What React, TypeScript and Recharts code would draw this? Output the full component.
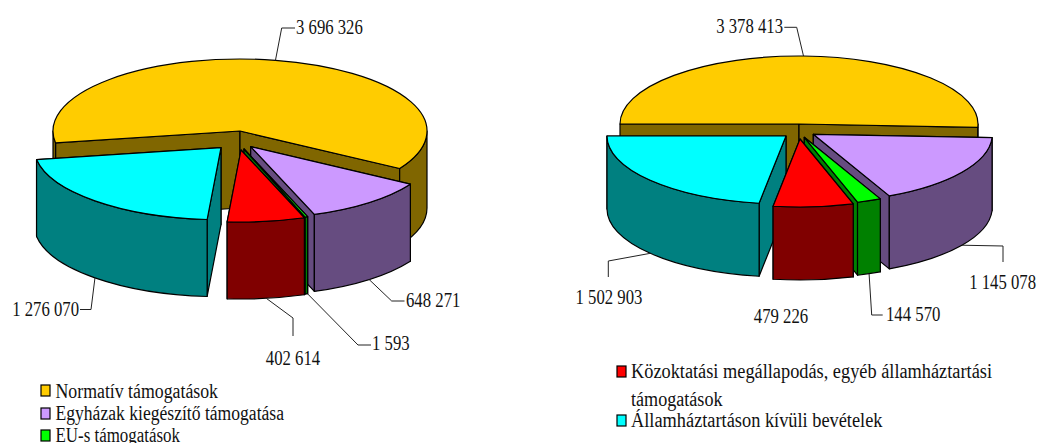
import { Pie, PieChart } from "recharts";

const CATEGORIES = [
  "Normatív támogatások",
  "Egyházak kiegészítő támogatása",
  "EU-s támogatások",
  "Közoktatási megállapodás, egyéb államháztartási támogatások",
  "Államháztartáson kívüli bevételek",
];
const VALUES_LEFT = [3696326, 648271, 1593, 402614, 1276070];
const VALUES_RIGHT = [3378413, 1145078, 144570, 479226, 1502903];
const COLORS = ["#ffcc00", "#cc99ff", "#00ff00", "#ff0000", "#00ffff"];
const WALLS = ["#806600", "#664c80", "#008000", "#800000", "#008080"];

// slices are painted in two passes so the red one sits on top of the cyan one
const BACK_SLICES = [0, 1, 4];
const FRONT_SLICES = [2, 3];

const FONT = "'Liberation Serif', serif";
const INK = "#111";
const MIN_SPAN = 0.8; // keeps the tiny EU slice visible

interface LabelPlace {
  via: number[][];
  x: number;
  y: number;
  anchor: string;
}

interface Layout {
  cx: number;
  cy: number;
  rx: number;
  ry: number;
  depth: number;
  startAngle: number;
  explode: number[][];
  labels: LabelPlace[];
}

const LEFT: Layout = {
  cx: 240,
  cy: 131,
  rx: 187,
  ry: 72,
  depth: 77,
  startAngle: 189.5,
  explode: [[0, 0], [10.7, 15.7], [4, 18], [1, 19], [-19, 16.7]],
  labels: [
    { via: [[281.7, 28], [295, 28]], x: 296, y: 34, anchor: "start" },
    { via: [[391.7, 301], [404.5, 301]], x: 406, y: 306.5, anchor: "start" },
    { via: [[358, 345], [371, 345]], x: 372, y: 350, anchor: "start" },
    { via: [[293, 318], [293, 336]], x: 293, y: 365, anchor: "middle" },
    { via: [[91, 309.5], [80, 309.5]], x: 79, y: 315.5, anchor: "end" },
  ],
};

const RIGHT: Layout = {
  cx: 799,
  cy: 124,
  rx: 179,
  ry: 68,
  depth: 73,
  startAngle: 180,
  explode: [[0, 0], [14.3, 10.3], [5.3, 13.3], [1, 15], [-13, 12]],
  labels: [
    { via: [[796.7, 27.3], [784.3, 27.3]], x: 783, y: 32.5, anchor: "end" },
    { via: [[1003, 246], [1003, 262]], x: 1036, y: 289, anchor: "end" },
    { via: [[871.7, 315], [882.7, 315]], x: 886, y: 320.5, anchor: "start" },
    { via: [], x: 781, y: 322.5, anchor: "middle" },
    { via: [[608.3, 261], [608.3, 277]], x: 609, y: 304, anchor: "middle" },
  ],
};

function formatValue(n: number) {
  return String(n).replace(/\B(?=(\d{3})+$)/g, " ");
}

function valueWidth(text: string) {
  const digits = text.replace(/ /g, "").length;
  return digits * 8.4 + (text.length - digits) * 4;
}

function makeShape(layout: Layout, slices: number[]) {
  return function Slice3D(props: any) {
    const i = CATEGORIES.indexOf(props.name);
    if (!slices.includes(i)) return <g />;
    const { rx, ry, depth } = layout;
    const [dx, dy] = layout.explode[i];
    const ax = props.cx + dx;
    const ay = props.cy + dy;
    const start = props.startAngle;
    const end = Math.min(props.endAngle, start - MIN_SPAN);
    const pt = (deg: number, drop = 0) => {
      const r = (deg * Math.PI) / 180;
      return `${ax + rx * Math.cos(r)} ${ay - ry * Math.sin(r) + drop}`;
    };
    const face = (deg: number) =>
      `M${ax} ${ay} L${pt(deg)} L${pt(deg, depth)} L${ax} ${ay + depth} Z`;

    const fronts: number[][] = [];
    [-360, 0, 360].forEach((k) => {
      const lo = Math.max(end, k - 180);
      const hi = Math.min(start, k);
      if (lo < hi) fronts.push([hi, lo]);
    });
    const large = start - end > 180 ? 1 : 0;
    const line = { stroke: "#000", strokeWidth: 1.2, strokeLinejoin: "round" as const };

    // the side that faces the viewer goes last, its back edge must not show through
    const sinOf = (deg: number) => Math.sin((deg * Math.PI) / 180);
    const sides = sinOf(start) < sinOf(end) ? [end, start] : [start, end];

    return (
      <g>
        {sides.map((deg) => (
          <path key={deg} d={face(deg)} fill={WALLS[i]} {...line} />
        ))}
        {fronts.map(([hi, lo]) => (
          <path
            key={hi}
            d={`M${pt(hi)} A${rx} ${ry} 0 0 1 ${pt(lo)} L${pt(lo, depth)} A${rx} ${ry} 0 0 0 ${pt(hi, depth)} Z`}
            fill={WALLS[i]}
            {...line}
          />
        ))}
        <path
          d={`M${ax} ${ay} L${pt(start)} A${rx} ${ry} 0 ${large} 1 ${pt(end)} Z`}
          fill={COLORS[i]}
          {...line}
        />
      </g>
    );
  };
}

function makeLabel(layout: Layout) {
  return function SliceLabel(props: any) {
    const i = CATEGORIES.indexOf(props.name);
    const { rx, ry, depth } = layout;
    const [dx, dy] = layout.explode[i];
    const place = layout.labels[i];
    const r = (props.midAngle * Math.PI) / 180;
    const sin = Math.sin(r);
    const sx = props.cx + dx + rx * Math.cos(r);
    const sy = props.cy + dy - ry * sin + (sin < 0 ? depth : 0);
    const text = formatValue(props.value);
    return (
      <g>
        {place.via.length > 0 && (
          <polyline
            points={[[sx, sy], ...place.via].map((p) => p.join(",")).join(" ")}
            fill="none"
            stroke="#222"
            strokeWidth={1}
          />
        )}
        <text
          x={place.x}
          y={place.y}
          textAnchor={place.anchor as any}
          fontFamily={FONT}
          fontSize={20}
          fill={INK}
          textLength={valueWidth(text)}
          lengthAdjust="spacingAndGlyphs"
        >
          {text}
        </text>
      </g>
    );
  };
}

const LEGEND_SWATCHES = [
  { color: 0, x: 41, y: 385 },
  { color: 1, x: 41, y: 408 },
  { color: 2, x: 41, y: 430 },
  { color: 3, x: 617, y: 366 },
  { color: 4, x: 617, y: 415 },
];
const LEGEND_LINES = [
  { text: "Normatív támogatások", x: 55.5, y: 398, width: 162.5 },
  { text: "Egyházak kiegészítő támogatása", x: 55.5, y: 420, width: 228.5 },
  { text: "EU-s támogatások", x: 55.5, y: 442, width: 124.5 },
  { text: "Közoktatási megállapodás, egyéb államháztartási", x: 631, y: 378, width: 361 },
  { text: "támogatások", x: 631, y: 405.5, width: 91.5 },
  { text: "Államháztartáson kívüli bevételek", x: 631, y: 427, width: 251.5 },
];

function Legends() {
  return (
    <g>
      {LEGEND_SWATCHES.map((s) => (
        <rect
          key={s.color}
          x={s.x}
          y={s.y}
          width={9}
          height={11}
          fill={COLORS[s.color]}
          stroke="#000"
          strokeWidth={1.2}
        />
      ))}
      {LEGEND_LINES.map((l) => (
        <text
          key={l.text}
          x={l.x}
          y={l.y}
          fontFamily={FONT}
          fontSize={20}
          fill={INK}
          textLength={l.width}
          lengthAdjust="spacingAndGlyphs"
        >
          {l.text}
        </text>
      ))}
    </g>
  );
}

function toRows(values: number[]) {
  return CATEGORIES.map((name, i) => ({ name, value: values[i], fill: COLORS[i] }));
}

function renderPie(id: string, values: number[], layout: Layout, slices: number[], withLabels: boolean) {
  return (
    <Pie
      key={id}
      data={toRows(values)}
      dataKey="value"
      nameKey="name"
      cx={layout.cx}
      cy={layout.cy}
      innerRadius={0}
      outerRadius={layout.rx}
      startAngle={layout.startAngle}
      endAngle={layout.startAngle - 360}
      shape={makeShape(layout, slices)}
      label={withLabels ? makeLabel(layout) : false}
      labelLine={false}
      isAnimationActive={false}
    />
  );
}

export default function App() {
  return (
    <div style={{ position: "absolute", left: 0, top: 0, width: 1039, height: 443, background: "#fff" }}>
      <PieChart width={1039} height={443} margin={{ top: 0, right: 0, bottom: 0, left: 0 }}>
        {renderPie("left-back", VALUES_LEFT, LEFT, BACK_SLICES, false)}
        {renderPie("left-front", VALUES_LEFT, LEFT, FRONT_SLICES, true)}
        {renderPie("right-back", VALUES_RIGHT, RIGHT, BACK_SLICES, false)}
        {renderPie("right-front", VALUES_RIGHT, RIGHT, FRONT_SLICES, true)}
        <Legends />
      </PieChart>
    </div>
  );
}
